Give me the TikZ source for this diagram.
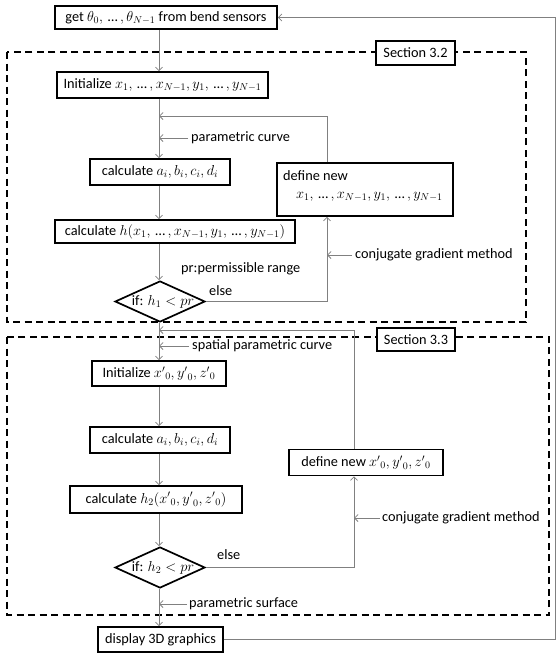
\documentclass[tikz,border=0pt]{standalone}
\usepackage{fontspec}
\setmainfont{Carlito}
\usetikzlibrary{arrows.meta,shapes.geometric}
\newcommand\fs{\fontsize{14.3}{17}\selectfont}
\newcommand\el{\mbox{\,…\,}}
\tikzset{
  box/.style={draw=black, line width=1.7pt, fill=white, inner xsep=2pt, inner ysep=0pt, font=\fs, anchor=center},
  dia/.style={diamond, draw=black, line width=1.7pt, fill=white, inner sep=0pt, anchor=center},
  conn/.style={draw=black!50, line width=0.8pt, -{Straight Barb[length=3.5pt,width=7pt]}},
  lbl/.style={anchor=west, inner sep=0pt, font=\fs},
  secbox/.style={draw=black, dash pattern=on 7pt off 4.5pt, line width=1.7pt}
}
\begin{document}
\begin{tikzpicture}[x=1pt,y=-1pt]
\useasboundingbox (0,0) rectangle (557,665);
% coordinates of the vertical lines
\coordinate (mx) at (159,0);
\coordinate (lx1) at (327,0);
\coordinate (lx2) at (354,0);
\coordinate (fx) at (555,0);
\coordinate (j1) at (159,116);
\coordinate (j2) at (159,330);
% dashed section boxes
\draw[secbox] (7,52) rectangle (526,322);
\draw[secbox] (7,337) rectangle (549,615);
\node[box, minimum width=79pt, minimum height=24pt] (sec32) at (415.5,53) {Section 3.2};
\node[box, minimum width=78pt, minimum height=23pt] (sec33) at (416,339.5) {Section 3.3};
% boxes
\node[box, minimum width=222pt, minimum height=23pt] (get) at (166,17.5) {get $\theta_0,\el,\theta_{N-1}$ from bend sensors};
\node[box, minimum width=211pt, minimum height=26pt] (init1) at (162.5,85) {Initialize $x_1,\el,x_{N-1},y_1,\el,y_{N-1}$};
\node[box, minimum width=140pt, minimum height=26pt] (calca1) at (160,172) {calculate $a_i,b_i,c_i,d_i$};
\node[box, minimum width=240pt, minimum height=23pt] (calch) at (175,231.5) {calculate $h(x_1,\el,x_{N-1},y_1,\el,y_{N-1})$};
\node[dia, minimum width=90pt, minimum height=41pt] (dia1) at (160,301.5) {};
\node[font=\fs, inner sep=0pt] (dia1t) at (163,302) {if: $h_1<pr$};
\node[box, minimum width=176pt, minimum height=53pt] (define1) at (365,189.5) {};
\node[lbl] (def1a) at (283,176) {define new};
\node[lbl] (def1b) at (296,197) {$x_1,\el,x_{N-1},y_1,\el,y_{N-1}$};
\node[box, minimum width=134pt, minimum height=25pt] (init2) at (159,373.5) {Initialize ${x'}_0,{y'}_0,{z'}_0$};
\node[box, minimum width=140pt, minimum height=26pt] (calca2) at (160,440) {calculate $a_i,b_i,c_i,d_i$};
\node[box, minimum width=172pt, minimum height=27pt] (calch2) at (156,499.5) {calculate $h_2({x'}_0,{y'}_0,{z'}_0)$};
\node[dia, minimum width=90pt, minimum height=41pt] (dia2) at (160,567.5) {};
\node[font=\fs, inner sep=0pt] (dia2t) at (163,568) {if: $h_2<pr$};
\node[box, minimum width=154pt, minimum height=26pt] (define2) at (366,462.5) {define new ${x'}_0,{y'}_0,{z'}_0$};
\node[box, minimum width=125pt, minimum height=25pt] (display) at (160.5,639.5) {display 3D graphics};
% labels
\node[lbl] (pc) at (191,138) {parametric curve};
\node[lbl] (cg1) at (355,255) {conjugate gradient method};
\node[lbl] (pr) at (181,269) {pr:permissible range};
\node[lbl] (else1) at (209,291) {else};
\node[lbl] (spc) at (192,346) {spatial parametric curve};
\node[lbl] (else2) at (217,555) {else};
\node[lbl] (cg2) at (382,518) {conjugate gradient method};
\node[lbl] (ps) at (189,604) {parametric surface};
% main flow
\draw[conn] (get.south -| mx) -- (init1.north -| mx);
\draw[conn] (init1.south -| mx) -- (calca1.north -| mx);
\draw[conn] (calca1.south -| mx) -- (calch.north -| mx);
\draw[conn] (calch.south -| mx) -- (dia1.north -| mx);
\draw[conn] (dia1.south -| mx) -- (init2.north -| mx);
\draw[conn] (init2.south -| mx) -- (calca2.north -| mx);
\draw[conn] (calca2.south -| mx) -- (calch2.north -| mx);
\draw[conn] (calch2.south -| mx) -- (dia2.north -| mx);
\draw[conn] (dia2.south -| mx) -- (display.north -| mx);
% loops
\draw[conn] (dia1.east) -| (define1.south -| lx1);
\draw[conn] (define1.north -| lx1) |- (j1);
\draw[conn] (dia2.east) -| (define2.south -| lx2);
\draw[conn] (define2.north -| lx2) |- (j2);
\draw[conn] (display.east) -- (display.east -| fx) -- (get.east -| fx) -- (get.east);
% annotation arrows
\draw[conn] ([xshift=-3pt]pc.west) -- (pc.west -| mx);
\draw[conn] ([xshift=-3pt]cg1.west) -- (cg1.west -| lx1);
\draw[conn] ([xshift=-3pt]spc.west) -- (spc.west -| mx);
\draw[conn] ([xshift=-2pt]cg2.west) -- (cg2.west -| lx2);
\draw[conn] ([xshift=-2pt]ps.west) -- (ps.west -| mx);
\end{tikzpicture}
\end{document}
